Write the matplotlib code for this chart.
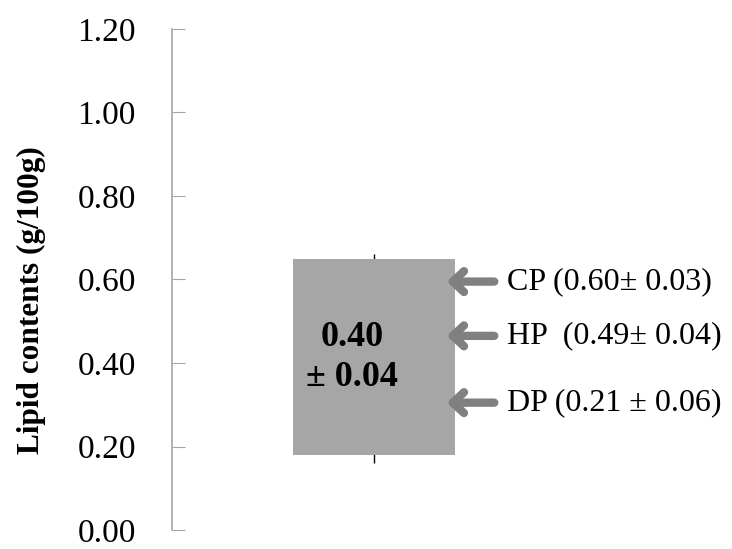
import numpy as np
import matplotlib.pyplot as plt

# box (open/close) and high-low line
categories = [1]
box_low = [0.18]
box_high = [0.65]
line_low = [0.16]
line_high = [0.66]
box_label = '0.40\n± 0.04'

# arrows on the right side
arrow_labels = ['CP (0.60± 0.03)', 'HP  (0.49± 0.04)', 'DP (0.21 ± 0.06)']
arrow_y = [0.595, 0.465, 0.305]

yticks = [0.0, 0.2, 0.4, 0.6, 0.8, 1.0, 1.2]

plt.rcParams['font.family'] = ['Liberation Serif', 'DejaVu Serif']

fig = plt.figure(figsize=(7.32, 5.49), dpi=100)
ax = fig.add_axes([0.235, 0.0346, 0.552, 0.9126])

ax.vlines(categories, line_low, line_high, color='black', lw=1, zorder=1)
ax.bar(categories, np.array(box_high) - np.array(box_low), bottom=box_low,
       width=0.8, color='#a6a6a6', zorder=2)
ax.text(categories[0] - 0.11, 0.413, box_label, ha='center', va='center',
        fontsize=26, fontweight='bold', linespacing=1.25, zorder=3)

for lab, y in zip(arrow_labels, arrow_y):
    ax.annotate('', xy=(1.36, y), xytext=(1.595, y),
                arrowprops=dict(arrowstyle='->,head_length=0.8,head_width=0.75',
                                lw=6, color='#808080', shrinkA=0, shrinkB=0))
    ax.text(1.66, y, lab, ha='left', va='center', fontsize=23)

ax.set_xlim(0, 2)
ax.set_ylim(0, 1.2)
ax.set_yticks(yticks)
ax.set_yticklabels(['%.2f' % t for t in yticks], fontsize=24)
ax.tick_params(axis='y', direction='in', length=9, color='#a6a6a6', pad=26)
ax.set_xticks([])
for s in ['top', 'right', 'bottom']:
    ax.spines[s].set_visible(False)
ax.spines['left'].set_color('#a6a6a6')
ax.spines['left'].set_linewidth(1.2)
fig.text(31 / 732, 1 - 300 / 549, 'Lipid contents (g/100g)', rotation=90,
         ha='center', va='center', fontsize=22.5, fontweight='bold')

fig.savefig('out.png', dpi=100)
